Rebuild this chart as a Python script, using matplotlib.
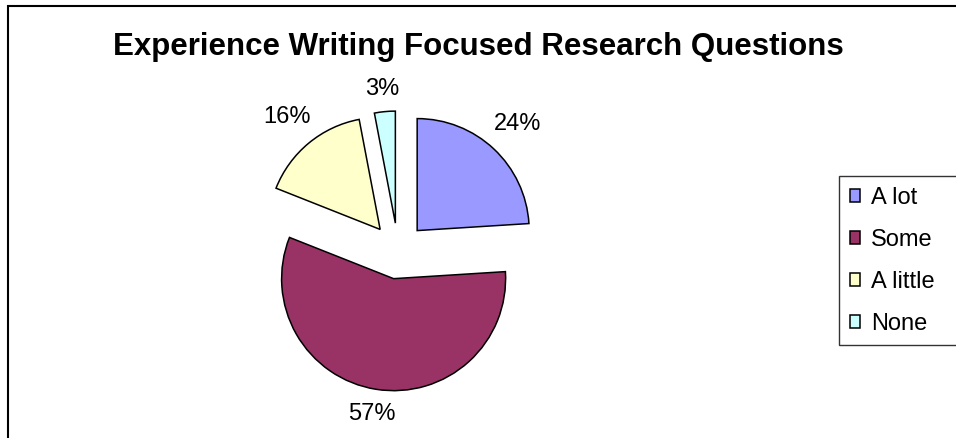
import matplotlib
matplotlib.use('Agg')
import matplotlib.pyplot as plt
from matplotlib.patches import Rectangle
import numpy as np

plt.rcParams['font.family'] = ['Liberation Sans', 'DejaVu Sans']

# survey answers (percent)
categories = ['A lot', 'Some', 'A little', 'None']
values = [24, 57, 16, 3]
colors = ['#9999FF', '#993366', '#FFFFCC', '#CCFFFF']
explode = [0.25, 0.25, 0.25, 0.25]
title = 'Experience Writing Focused Research Questions'

W, H = 956, 438
fig = plt.figure(figsize=(W / 100, H / 100), dpi=100)

# pie centre / radius in pixels
cx, cy, r = 398, 251, 112
L = 1.6
half = L * r
ax = fig.add_axes([(cx - half) / W, (H - cy - half) / H, 2 * half / W, 2 * half / H])

wedges, texts, autotexts = ax.pie(
    values, colors=colors, explode=explode, startangle=90, counterclock=False,
    autopct='%.0f%%', pctdistance=1.27, radius=1,
    wedgeprops=dict(edgecolor='black', linewidth=1.1),
    textprops=dict(fontsize=17, color='black'))
# pie() resets the limits, so set them afterwards
ax.set_xlim(-L, L)
ax.set_ylim(-L, L)
ax.set_aspect('equal')
ax.axis('off')

# put each % label just outside its slice edge (excel style: fixed gap
# between arc and nearest side of the text box)
fig.canvas.draw()
renderer = fig.canvas.get_renderer()
gap = 10
r_px = ax.transData.transform((1, 0))[0] - ax.transData.transform((0, 0))[0]
for w, t in zip(wedges, autotexts):
    th = np.deg2rad((w.theta1 + w.theta2) / 2)
    u = np.array([np.cos(th), np.sin(th)])
    c = ax.transData.transform(w.center)
    bb = t.get_window_extent(renderer)
    proj = abs(u[0]) * bb.width / 2 + abs(u[1]) * bb.height / 2
    p = c + (r_px + gap + proj) * u
    t.set_position(ax.transData.inverted().transform(p))

fig.text(0.5, 1 - 55 / H, title, ha='center', va='baseline',
         fontsize=22.5, fontweight='bold')

# outer chart frame (only left & top visible)
fig.patches.append(Rectangle((8 / W, -0.1), 1.2, 1 - 6 / H + 0.1,
                             transform=fig.transFigure, fill=False,
                             edgecolor='black', linewidth=1.5))

leg = fig.legend(wedges, categories, loc='upper left',
                 bbox_to_anchor=(839 / W, 1 - 176 / H, 0.2, 0), mode='expand',
                 fontsize=17, frameon=True, fancybox=False,
                 handlelength=0.45, handleheight=0.45, handletextpad=0.45,
                 labelspacing=0.85, borderpad=0.45, borderaxespad=0)
leg.get_frame().set_edgecolor('black')
leg.get_frame().set_linewidth(1.0)

fig.savefig('out.png', dpi=100)
